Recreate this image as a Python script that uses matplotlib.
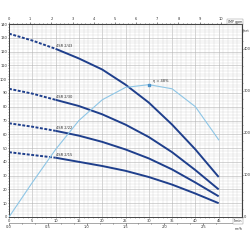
import numpy as np
import matplotlib
matplotlib.use('Agg')
import matplotlib.pyplot as plt

# flow (l/min) and head (m)
flow = [0, 5, 10, 15, 20, 25, 30, 35, 40, 45]
head_2_43 = [133, 128, 122, 115, 107, 96, 83, 67, 49, 29]
head_2_30 = [93, 89.5, 85, 80.5, 74.5, 67, 58, 47, 34, 20]
head_2_22 = [68, 65.5, 62.5, 59, 54.5, 49, 42.5, 34.5, 25, 15]
head_2_15 = [47, 45, 43, 40, 37, 33.5, 29, 23.5, 17, 10]
pump_names = ['4SR 2/43', '4SR 2/30', '4SR 2/22', '4SR 2/15']

# efficiency curve (%)
eff = [0, 12.5, 24.5, 35, 42.5, 47, 48, 46.5, 40, 28]
eff_peak_q = 30
eff_peak = 48

x_ticks = [0, 5, 10, 15, 20, 25, 30, 35, 40, 45]
y_ticks = list(range(0, 141, 10))
gpm_ticks = list(range(0, 11))
m3h_ticks = [0, 0.5, 1, 1.5, 2, 2.5]
ft_ticks = [0, 100, 200, 300, 400]

dark = '#1f3f8c'
light = '#8ec6e6'
txt = '#333333'
fs = 2.6

fig = plt.figure(figsize=(2.5, 2.5), dpi=100)
ax = fig.add_axes([0.036, 0.132, 0.932, 0.772])
ax.set_xlim(0, 50)
ax.set_ylim(0, 140)

# fine grid
ax.set_xticks(np.arange(0, 51, 1), minor=True)
ax.set_yticks(np.arange(0, 141, 2), minor=True)
ax.set_xticks(x_ticks)
ax.set_yticks(y_ticks)
ax.grid(which='minor', color='#d4d4d4', lw=0.3)
ax.grid(which='major', color='#b4b4b4', lw=0.4)
ax.set_axisbelow(True)
ax.tick_params(which='both', labelsize=fs, colors=txt, length=1.0, width=0.4, pad=0.4)
ax.tick_params(which='minor', length=0.6)
for s in ax.spines.values():
    s.set_color('#444444')
    s.set_linewidth(0.7)

# pump curves: dashed up to 10 l/min, solid after
for h, name in zip([head_2_43, head_2_30, head_2_22, head_2_15], pump_names):
    ax.plot(flow[:3], h[:3], color=dark, lw=1.4, dashes=(1.5, 0.8))
    ax.plot(flow[2:], h[2:], color=dark, lw=1.4, solid_capstyle='butt')
    ax.text(flow[2], h[2] + 0.6, name, fontsize=fs, color=txt, ha='left', va='bottom')

# efficiency curve on its own scale
ax2 = fig.add_axes(ax.get_position(), frameon=False)
ax2.set_xlim(0, 50)
ax2.set_ylim(0, 70)
ax2.axis('off')
ax2.plot(flow, eff, color=light, lw=0.8)
ax2.plot([eff_peak_q], [eff_peak], 's', ms=1.6, color='#4a90c8')
ax2.text(eff_peak_q + 1, eff_peak + 1.2, 'η = 48%', fontsize=fs, color=txt, ha='left', va='center')

# top axis: IMP gpm
top = ax.secondary_xaxis('top', functions=(lambda q: q / 4.546, lambda g: g * 4.546))
top.set_xticks(gpm_ticks)
top.set_xticks(np.arange(0, 10.01, 0.2), minor=True)
top.tick_params(which='both', labelsize=fs, colors=txt, length=1.2, width=0.4, pad=0.6)
top.tick_params(which='minor', length=0.7)
fig.text(0.94, 0.914, 'IMP gpm', fontsize=2.4, color=txt, ha='center', va='center',
         bbox=dict(boxstyle='square,pad=0.2', fc='white', ec='#888888', lw=0.3))

# second bottom axis: m3/h
bot = ax.secondary_xaxis(-0.031, functions=(lambda q: q * 0.06, lambda m: m / 0.06))
bot.set_xticks(m3h_ticks)
bot.set_xticks(np.arange(0, 2.8, 1 / 6), minor=True)
bot.tick_params(which='both', labelsize=fs, colors=txt, length=1.2, width=0.4, pad=0.6)
bot.tick_params(which='minor', length=0.8)
bot.spines['bottom'].set_linewidth(0.4)
bot.spines['bottom'].set_color('#666666')
fig.text(0.952, 0.116, 'l/min', fontsize=2.4, color=txt, ha='center', va='center',
         bbox=dict(boxstyle='square,pad=0.2', fc='white', ec='#888888', lw=0.3))
fig.text(0.955, 0.082, 'm³/h', fontsize=2.4, color=txt, ha='center', va='center')

# right axis: feet
right = ax.secondary_yaxis('right', functions=(lambda m: m / 0.3048, lambda f: f * 0.3048))
right.set_yticks(ft_ticks)
right.set_yticks(np.arange(0, 460, 20), minor=True)
right.tick_params(which='both', labelsize=fs, colors=txt, length=1.0, width=0.4, pad=0.4)
right.tick_params(which='minor', length=0.6)
fig.text(0.985, 0.878, 'feet', fontsize=2.4, color=txt, ha='center', va='center')

fig.savefig('out.png', dpi=100)
